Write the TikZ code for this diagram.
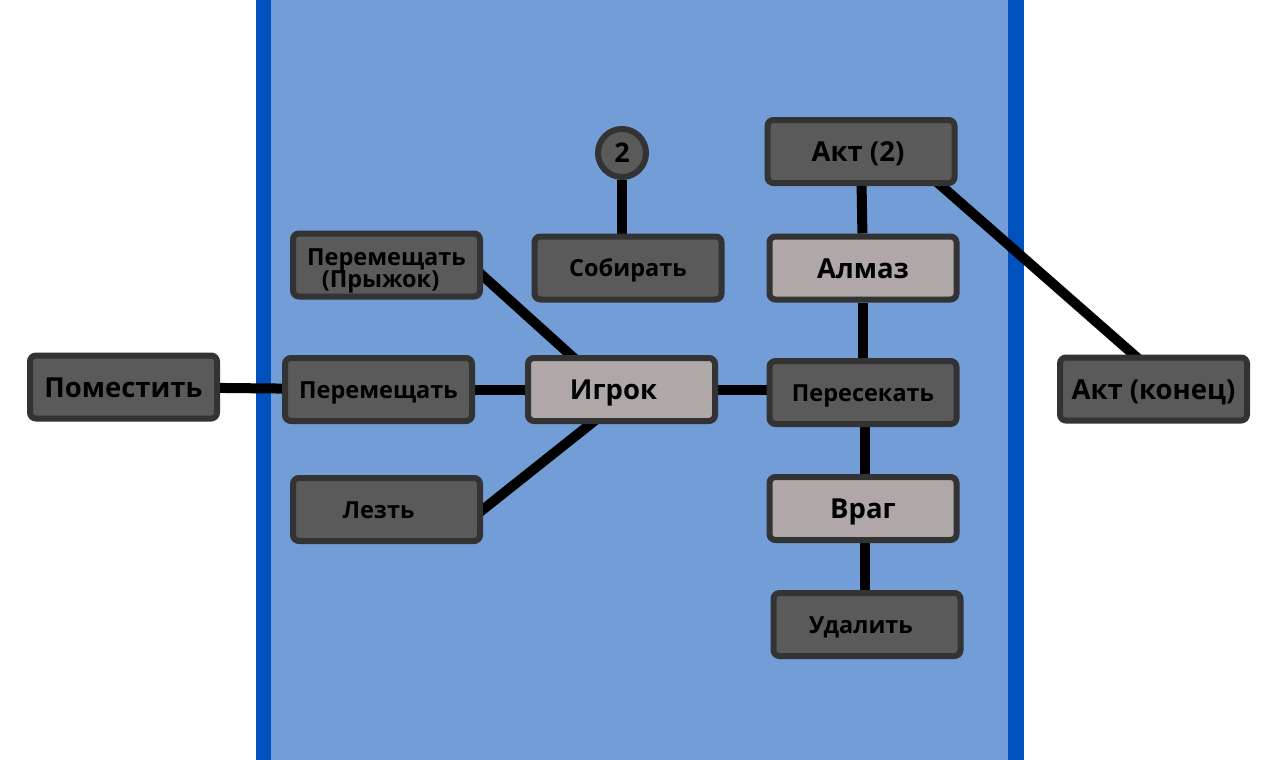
\documentclass[tikz,border=0pt]{standalone}
\usepackage{fontspec}
\setmainfont{Open Sans}
\usetikzlibrary{calc}
\pgfdeclarelayer{bg}
\pgfdeclarelayer{edges}
\pgfsetlayers{bg,edges,main}
\definecolor{panel}{RGB}{114,157,215}
\definecolor{bar}{RGB}{0,80,190}
\definecolor{darkbox}{RGB}{90,90,90}
\definecolor{lightbox}{RGB}{176,168,168}
\definecolor{boxline}{RGB}{51,51,51}
\tikzset{
  box/.style={draw=boxline, line width=6pt, rounded corners=6pt, fill=darkbox,
    minimum width=187pt, minimum height=63pt, inner sep=0pt, align=center,
    font=\bfseries\fontsize{23.5}{23}\selectfont, text=black,
    text height=17pt, text depth=0pt},
  bigtext/.style={font=\bfseries\fontsize{27.5}{27}\selectfont, text height=20pt},
  twoline/.style={text height=, text depth=},
  lightbox/.style={box, fill=lightbox},
  roundmark/.style={circle, draw=boxline, line width=6pt, fill=darkbox,
    minimum size=48pt, inner sep=0pt, font=\bfseries\fontsize{27}{27}\selectfont,
    text height=19pt, text depth=0pt},
  conn/.style={line width=10pt, draw=black}
}
\begin{document}
\begin{tikzpicture}[x=1pt,y=-1pt]
\useasboundingbox (0,0) rectangle (1280,760);
\begin{pgfonlayer}{bg}
  \fill[white] (0,0) rectangle (1280,760);
  \fill[panel] (256,0) rectangle (1024,760);
  \fill[bar] (256,0) rectangle (271,760);
  \fill[bar] (1008,0) rectangle (1024,760);
\end{pgfonlayer}

\node[box] (pom) at (123.5,387) [bigtext] {Поместить};
\node[box] (per) at (378.5,389.5) {Перемещать};
\node[box, twoline] (jump) at (386.5,265) {\rule{0pt}{28pt}Перемещать\\[-1pt]\hspace*{-12pt}(Прыжок)};
\node[box] (lez) at (386.5,509.5) {\hspace*{-16pt}Лезть};
\node[lightbox, bigtext] (igr) at (621.5,389.5) {\hspace*{-16pt}Игрок};
\node[box] (sob) at (628,268) {Собирать};
\node[roundmark] (two) at (622,153) {2};
\node[box, bigtext] (akt2) at (861,151.5) {\hspace*{-6pt}Акт (2)};
\node[lightbox, bigtext] (alm) at (863,268) {Алмаз};
\node[box] (pers) at (863,392.5) {Пересекать};
\node[lightbox, bigtext] (vrag) at (863,508.5) {Враг};
\node[box] (ud) at (867,624.5) {\hspace*{-12pt}Удалить};
\node[box, bigtext] (aktend) at (1153.5,389) {Акт (конец)};

\coordinate (jA) at ($(jump.east)+(0,11)$);
\coordinate (jB) at ($(igr.north)+(-51,0)$);
\coordinate (lA) at (lez.east);
\coordinate (lB) at ($(igr.south)+(-31,0)$);
\coordinate (aA) at ($(akt2.south east)+(-16,0)$);
\coordinate (aB) at ($(aktend.north)+(-20,0)$);
\coordinate (vA) at ($(vrag.center)+(2,0)$);
\coordinate (uA) at ($(ud.center)+(-2,0)$);

\begin{pgfonlayer}{edges}
  \draw[conn] (pom) -- (per);
  \draw[conn] (per) -- (igr);
  \draw[conn] ($(jB)!1.15!(jA)$) -- ($(jA)!1.15!(jB)$);
  \draw[conn] ($(lB)!1.15!(lA)$) -- ($(lA)!1.15!(lB)$);
  \draw[conn] (igr) -- (igr -| pers);
  \draw[conn] (two) -- (two |- sob.center);
  \draw[conn] (akt2) -- (alm);
  \draw[conn] (alm) -- (pers);
  \draw[conn] ($(pers.center)+(2,0)$) -- (vA);
  \draw[conn] (vA) -- (uA);
  \draw[conn] ($(aB)!1.08!(aA)$) -- ($(aA)!1.08!(aB)$);
\end{pgfonlayer}
\end{tikzpicture}
\end{document}
